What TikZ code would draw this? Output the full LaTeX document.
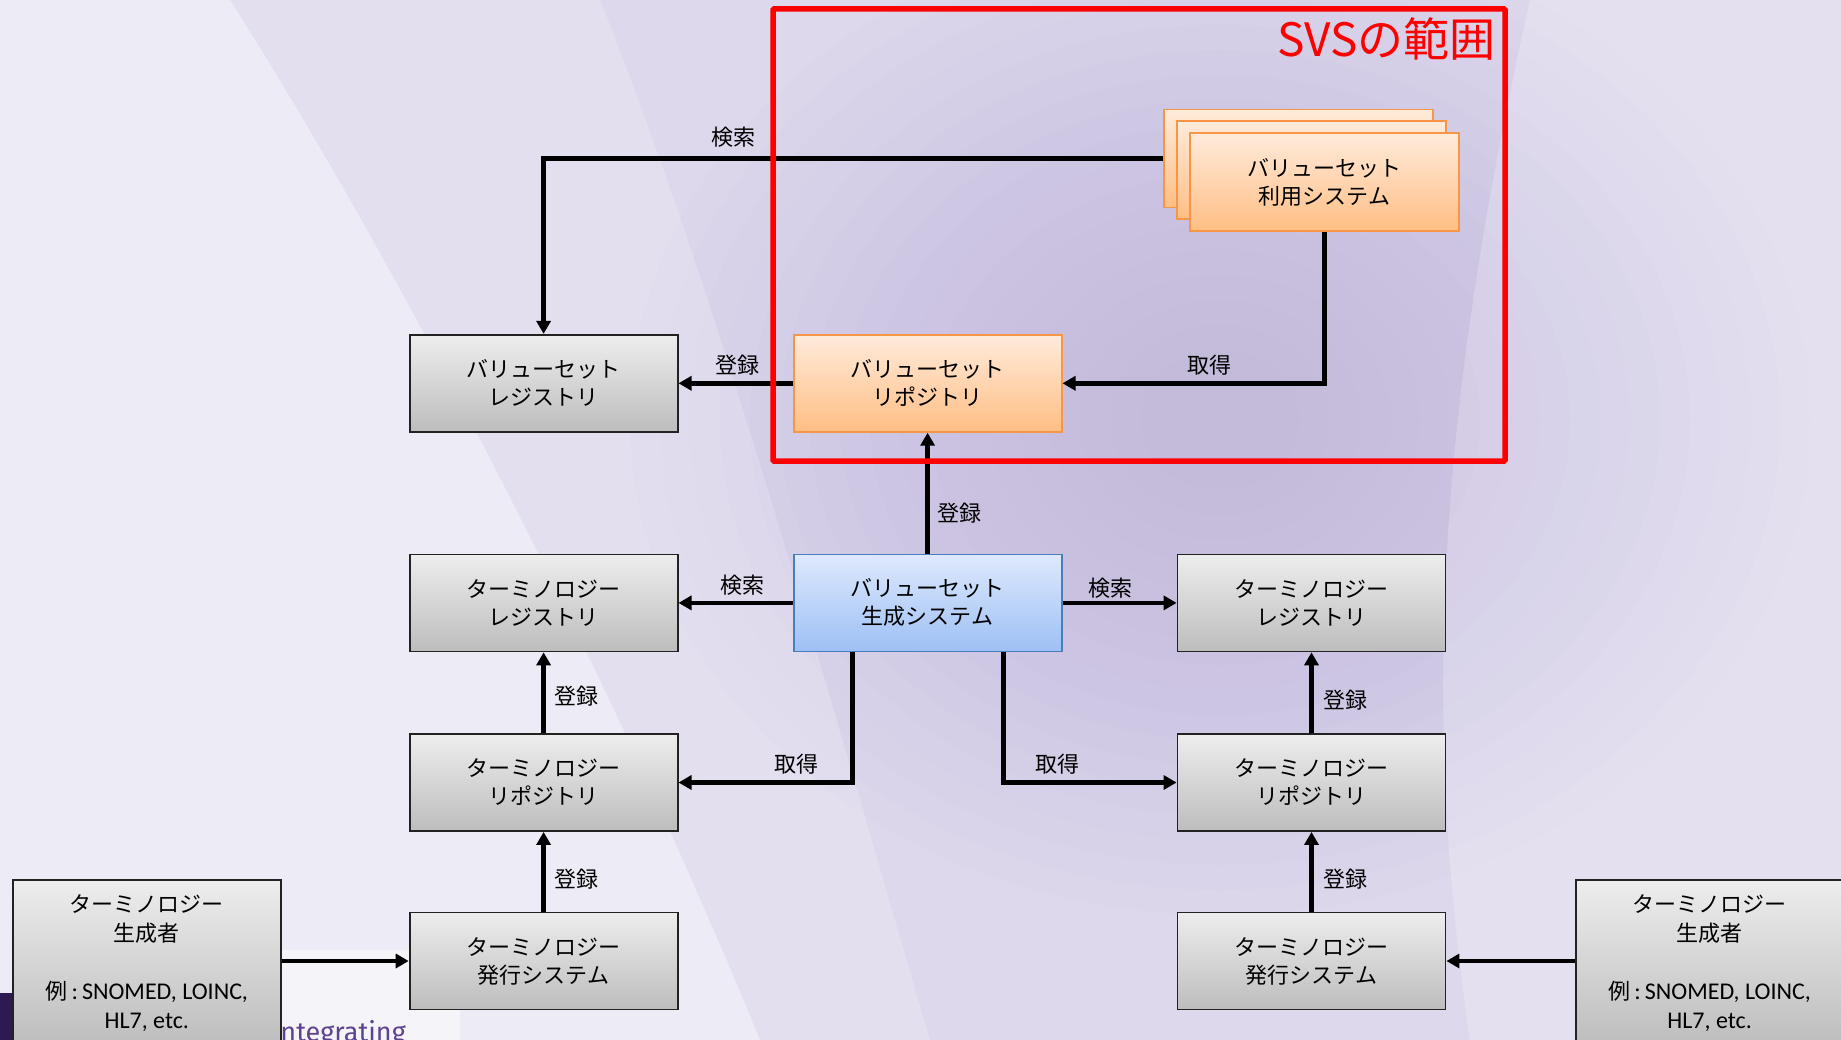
\documentclass[tikz,border=0pt]{standalone}
\usepackage{fontspec}
\setmainfont{Noto Sans CJK JP}
\newfontfamily\lat{Carlito}
\newfontfamily\logofont{Fira Sans}
\usetikzlibrary{arrows.meta,calc}
\definecolor{bgbase}{HTML}{DED8EC}
\definecolor{blob}{HTML}{B3A5D3}
\definecolor{gtop}{HTML}{EDEDED}
\definecolor{gbot}{HTML}{BDBDBD}
\definecolor{gline}{HTML}{222222}
\definecolor{otop}{HTML}{FFEBDB}
\definecolor{obot}{HTML}{FFBE84}
\definecolor{oline}{HTML}{F79646}
\definecolor{btop}{HTML}{DEE9FC}
\definecolor{bbot}{HTML}{9DC0F5}
\definecolor{bline}{HTML}{4A7EBB}
\definecolor{framered}{HTML}{FF0000}
\definecolor{logopurple}{HTML}{2E1A52}
\definecolor{logotext}{HTML}{5E4391}
\begin{document}
\begin{tikzpicture}[x=1pt,y=-1pt,
  graybox/.style={draw=gline,line width=1.8pt,top color=gtop,bottom color=gbot,
    minimum width=268pt,minimum height=97pt,align=center,
    font=\fontsize{22}{28}\selectfont,inner sep=4pt},
  orangebox/.style={graybox,draw=oline,top color=otop,bottom color=obot},
  bluebox/.style={graybox,draw=bline,top color=btop,bottom color=bbot},
  genbox/.style={graybox,anchor=north,minimum height=166pt,
    font=\fontsize{22}{29}\selectfont},
  conn/.style={line width=4.5pt,-{Triangle[length=13pt,width=14pt]}},
  lbl/.style={font=\fontsize{22}{26}\selectfont,inner sep=0pt}]
\useasboundingbox (0,0) rectangle (1841,1040);
% background
\fill[bgbase] (0,0) rectangle (1841,1040);
\foreach \i in {1,...,18}
  \fill[blob,opacity=0.035] (1220,420) ellipse [x radius={620-30*\i}, y radius={520-25*\i}];
\fill[white,opacity=0.18] (0,0) -- (600,0) .. controls (720,300) and (830,700) .. (930,1040) -- (0,1040) -- cycle;
\fill[white,opacity=0.38] (0,0) -- (230,0) .. controls (420,300) and (620,700) .. (760,1040) -- (0,1040) -- cycle;
\fill[white,opacity=0.22] (1530,0) .. controls (1440,400) and (1420,700) .. (1470,1040) -- (1841,1040) -- (1841,0) -- cycle;
% logo remnants
\fill[logopurple] (0,993) rectangle (260,1040);
\fill[white,opacity=0.45] (260,950) rectangle (460,1040);
\node[anchor=base east,inner sep=0pt,text=logotext,font=\logofont\fontsize{27}{27}\selectfont] (logo) at (406,1041) {Integrating};
% nodes
\node[graybox] (vsreg) at (543.6,383.3) {バリューセット\\レジストリ};
\node[orangebox] (vsrepo) at (927.6,383.3) {バリューセット\\リポジトリ};
\node[orangebox,minimum width=269pt,minimum height=98pt] (use1) at (1298.5,158.5) {};
\node[orangebox,minimum width=269pt,minimum height=98pt] (use2) at (1311.5,170) {};
\node[orangebox,minimum width=269pt,minimum height=98pt] (use3) at (1324.5,182) {バリューセット\\利用システム};
\node[bluebox] (vsgen) at (927.6,602.9) {バリューセット\\生成システム};
\node[graybox] (treg1) at (543.6,602.9) {ターミノロジー\\レジストリ};
\node[graybox] (treg2) at (1311.5,602.9) {ターミノロジー\\レジストリ};
\node[graybox] (trepo1) at (543.6,782.5) {ターミノロジー\\リポジトリ};
\node[graybox] (trepo2) at (1311.5,782.5) {ターミノロジー\\リポジトリ};
\node[graybox] (tiss1) at (543.6,961) {ターミノロジー\\発行システム};
\node[graybox] (tiss2) at (1311.5,961) {ターミノロジー\\発行システム};
\node[genbox] (tgen1) at (146.8,879) {ターミノロジー\\生成者\\[29pt]例{\lat\fontsize{24}{29}\selectfont\,:\,SNOMED, LOINC,}\\{\lat\fontsize{24}{29}\selectfont HL7, etc.}};
\node[genbox] (tgen2) at (1709.6,879) {ターミノロジー\\生成者\\[29pt]例{\lat\fontsize{24}{29}\selectfont\,:\,SNOMED, LOINC,}\\{\lat\fontsize{24}{29}\selectfont HL7, etc.}};
% connectors
\draw[conn] (use1.west) -| (vsreg.north);
\draw[conn] (use3.south) |- (vsrepo.east);
\draw[conn] (vsrepo.west) -- (vsreg.east);
\draw[conn] (vsgen.north) -- (vsrepo.south);
\draw[conn] (vsgen.west) -- (treg1.east);
\draw[conn] (vsgen.east) -- (treg2.west);
\draw[conn] ([xshift=-75pt]vsgen.south) |- (trepo1.east);
\draw[conn] ([xshift=76pt]vsgen.south) |- (trepo2.west);
\draw[conn] (trepo1.north) -- (treg1.south);
\draw[conn] (trepo2.north) -- (treg2.south);
\draw[conn] (tiss1.north) -- (trepo1.south);
\draw[conn] (tiss2.north) -- (trepo2.south);
\draw[conn] (tgen1.east |- tiss1.west) -- (tiss1.west);
\draw[conn] (tgen2.west |- tiss2.east) -- (tiss2.east);
% SVS frame
\draw[framered,line width=5.5pt,rounded corners=1pt] (773,9) rectangle (1505,461);
\node[anchor=east,text=framered,inner sep=0pt,font=\fontsize{46}{50}\selectfont] (svs) at (1496,39) {SVSの範囲};
% labels
\node[lbl] (l1) at (733.8,137.4) {検索};
\node[lbl] (l2) at (737.3,365.1) {登録};
\node[lbl] (l3) at (1209.3,365.1) {取得};
\node[lbl] (l4) at (959.2,513.1) {登録};
\node[lbl] (l5) at (742,584.7) {検索};
\node[lbl] (l6) at (1110.7,588.2) {検索};
\node[lbl] (l7) at (576.5,696.2) {登録};
\node[lbl] (l8) at (796,764.3) {取得};
\node[lbl] (l9) at (1057.9,764.3) {取得};
\node[lbl] (l10) at (1345.5,699.8) {登録};
\node[lbl] (l11) at (576.5,879.4) {登録};
\node[lbl] (l12) at (1345.5,879.4) {登録};
\end{tikzpicture}
\end{document}
